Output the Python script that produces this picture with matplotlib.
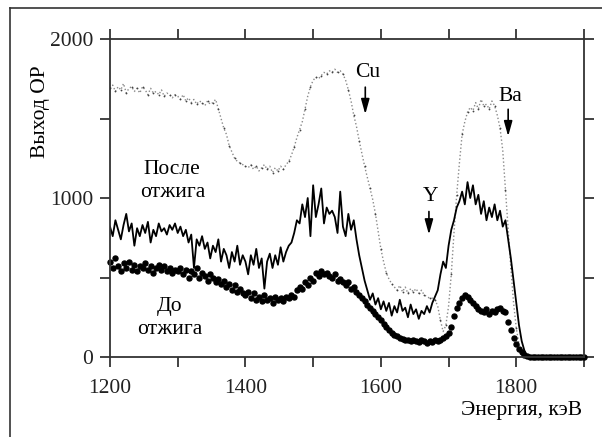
import numpy as np
import matplotlib
matplotlib.use("Agg")
import matplotlib.pyplot as plt
from matplotlib.lines import Line2D

plt.rcParams['font.family'] = 'serif'
plt.rcParams['font.serif'] = ['Liberation Serif', 'DejaVu Serif']

E_START = 1200
E_STEP = 4

# "После отжига" (after annealing) – solid line
after_vals = [
    820, 760, 860, 800, 740, 830, 900, 790, 840, 700, 810, 760, 830, 780, 850, 720, 800, 760, 840, 790, 810, 770, 830, 800, 840,
    780, 820, 760, 800, 720, 770, 560, 740, 700, 760, 680, 720, 620, 700, 660, 740, 600, 680, 640, 560, 660, 600, 700, 580, 640,
    600, 520, 640, 580, 680, 560, 620, 430, 600, 650, 560, 640, 580, 690, 600, 660, 700,
    720, 780, 860, 840,
    960, 880, 1000, 760, 1080, 880, 960, 1060, 840, 940, 900, 920, 880, 780, 1040, 820, 760, 900, 800, 860, 740,
    640, 560, 480, 420, 360,
    400, 330, 370, 300, 350, 290, 340, 260, 320, 280, 360, 290, 310, 250, 330, 270, 300, 240, 290, 270, 320, 280, 340, 380,
    420, 520, 600, 560, 700, 800, 860, 940,
    980, 1040, 960, 1100, 1000, 1080, 960, 1020, 900, 980, 860, 940, 880, 960, 860, 920, 820, 860,
    740, 620, 480, 340, 200, 100, 40, 10, 0,
    0, 0, 0, 0, 0, 0, 0, 0, 0, 0, 0, 0, 0, 0, 0, 0, 0, 0, 0, 0,
]

# "До отжига" (before annealing) – big dots
before_vals = [
    600, 560, 620, 570, 540, 590, 560, 600, 550, 580, 540, 570, 560, 590, 550, 570, 530, 560, 580, 550, 570, 540, 560, 530, 550,
    540, 560, 520, 550, 500, 540, 520, 560, 500, 530, 510, 480, 520, 500, 470, 490, 460, 480, 440, 460, 420, 450, 410, 430, 400,
    390, 410, 370, 400, 360, 380, 350, 390, 360, 370, 340, 380, 360, 370, 350, 380, 370,
    390, 380, 420, 440,
    430, 470, 450, 500, 480, 530, 510, 540, 520, 530, 510, 500, 520, 480, 490, 470, 450, 470, 430, 440, 410,
    390, 370, 350, 330, 310,
    290, 270, 250, 230, 210, 190, 170, 150, 140, 130, 120, 115, 110, 105, 100, 110, 100, 95, 105, 100, 90, 100, 95, 105,
    100, 110, 120, 130, 150, 190, 260, 310,
    340, 370, 390, 380, 360, 340, 320, 300, 290, 280, 300, 270, 290, 280, 300, 310, 290, 280,
    220, 170, 120, 80, 50, 30, 15, 5, 0,
    0, 0, 0, 0, 0, 0, 0, 0, 0, 0, 0, 0, 0, 0, 0, 0, 0, 0, 0, 0,
]

# random (reference) spectrum – gray dotted
random_vals = [
    1690, 1710, 1670, 1700, 1680, 1720, 1660, 1690, 1700, 1670, 1690, 1660, 1700, 1680, 1650, 1690, 1660, 1670, 1650, 1680, 1640, 1660, 1650, 1630, 1650,
    1640, 1620, 1650, 1610, 1630, 1600, 1620, 1590, 1610, 1600, 1580, 1610, 1590, 1600, 1620,
    1560, 1500, 1440, 1400, 1330, 1290, 1250, 1230, 1220, 1210,
    1200, 1190, 1210, 1180, 1200, 1170, 1190, 1210, 1180, 1200, 1160, 1190, 1170, 1200, 1180, 1210, 1230,
    1270, 1320, 1380, 1430,
    1480, 1560, 1640, 1700, 1740, 1760, 1750, 1770, 1790, 1780, 1800, 1790, 1810, 1790, 1800, 1780, 1740, 1680, 1610, 1520, 1450,
    1360, 1280, 1200, 1130, 1060,
    990, 900, 790, 680, 600, 530, 490, 460, 440, 420, 450, 410, 440, 400, 430, 410, 430, 400, 420, 390, 380, 370, 370, 360,
    320, 230, 160, 200, 320, 520, 780, 1020,
    1220, 1400, 1480, 1540, 1570, 1550, 1600, 1560, 1620, 1580, 1590, 1560, 1610, 1580, 1520, 1440, 1300, 1050,
    800, 560, 340, 180, 80, 30, 10, 0, 0,
    0, 0, 0, 0, 0, 0, 0, 0, 0, 0, 0, 0, 0, 0, 0, 0, 0, 0, 0, 0,
]

x_ticks = [1200, 1300, 1400, 1500, 1600, 1700, 1800, 1900]
x_ticklabels = ['1200', '', '1400', '', '1600', '', '1800', '']
y_ticks = [0, 500, 1000, 1500, 2000]
y_ticklabels = ['0', '', '1000', '', '2000']

# element markers: (label, energy, arrow top, arrow bottom, text y)
markers = [
    ('Cu', 1577, 1697, 1527, 1790),
    ('Ba', 1788, 1558, 1388, 1640),
    ('Y', 1671, 915, 770, 1010),
]

def energies(vals):
    return E_START + E_STEP * np.arange(len(vals))

fig = plt.figure(figsize=(6.02, 4.37), dpi=100)
ax = fig.add_axes([110/602, 1-357/437, 474/602, 318/437])

ax.plot(energies(random_vals), random_vals, linestyle=':', color='#8a8a8a', lw=1.0,
        marker='.', markersize=2.6, markerfacecolor='#444444', markeredgecolor='none', markevery=2)
ax.plot(energies(after_vals), after_vals, color='black', lw=1.3)
ax.plot(energies(before_vals), before_vals, linestyle='none', marker='o', markersize=3.6,
        color='black', clip_on=False)

ax.set_xlim(1200, 1900)
ax.set_ylim(0, 2000)
ax.set_xticks(x_ticks)
ax.set_xticklabels(x_ticklabels)
ax.set_yticks(y_ticks)
ax.set_yticklabels(y_ticklabels)
ax.tick_params(direction='out', length=7, width=1.2, labelsize=15.5, colors='#222222',
               top=True, right=True, labeltop=False, labelright=False)
ax.tick_params(axis='x', pad=9)
ax.tick_params(axis='y', pad=5)
for s in ax.spines.values():
    s.set_linewidth(1.3)
    s.set_color('#333333')

for lab, e, ytop, ybot, ytext in markers:
    ax.annotate('', xy=(e, ybot), xytext=(e, ytop),
                arrowprops=dict(arrowstyle='-|>,head_length=0.9,head_width=0.25',
                                color='black', lw=1.2, shrinkA=0, shrinkB=0))
    ax.text(e + 3, ytext, lab, fontsize=15.5, ha='center', va='center')

ax.text(1292, 1180, 'После', fontsize=15.5, ha='center', va='center')
ax.text(1292, 1035, 'отжига', fontsize=15.5, ha='center', va='center')
ax.text(1288, 315, 'До', fontsize=15.5, ha='center', va='center')
ax.text(1288, 170, 'отжига', fontsize=15.5, ha='center', va='center')

fig.text(40/602, 1-112/437, 'Выход ОР', rotation=90, fontsize=15.5, ha='center', va='center')
fig.text(582/602, 1-410/437, 'Энергия, кэВ', fontsize=15.5, ha='right', va='center')

# outer frame (top and left edges visible)
fig.add_artist(Line2D([10/602, 10/602], [0, 1-8/437], transform=fig.transFigure, color='#333333', lw=1.2))
fig.add_artist(Line2D([10/602, 1], [1-8/437, 1-8/437], transform=fig.transFigure, color='#333333', lw=1.2))

fig.savefig('out.png', dpi=100)
